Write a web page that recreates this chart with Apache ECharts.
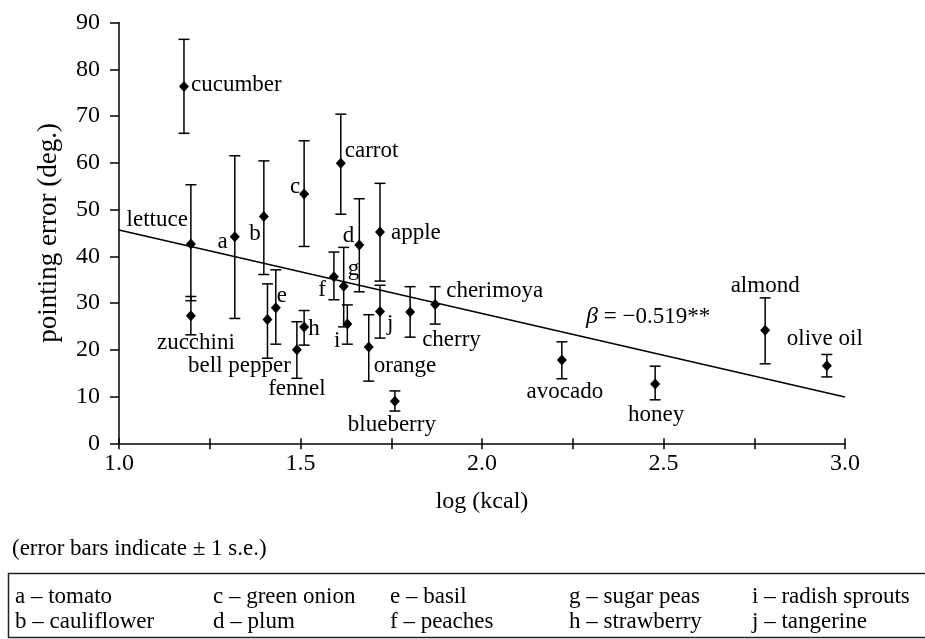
<!DOCTYPE html>
<html>
<head>
<meta charset="utf-8">
<script src="https://cdn.jsdelivr.net/npm/echarts@6/dist/echarts.min.js"></script>
<style>html,body{margin:0;padding:0;background:#fff}#c{width:925px;height:639px}</style>
</head>
<body>
<div id="c"></div>
<script>
// ---- data ----
const labels = ['cucumber','lettuce','zucchini','a','b','bell pepper','e','fennel','c','h','f','carrot','g','i','d','orange','apple','j','blueberry','cherry','cherimoya','avocado','honey','almond','olive oil'];
const logKcal = [1.179,1.198,1.198,1.319,1.399,1.409,1.432,1.490,1.510,1.510,1.592,1.611,1.619,1.629,1.662,1.688,1.719,1.719,1.760,1.802,1.871,2.220,2.477,2.780,2.950];
const pointingError = [76.3,42.6,27.3,44.2,48.5,26.5,29.0,20.0,53.3,24.9,35.6,59.9,33.6,25.5,42.4,20.6,45.2,28.2,9.0,28.1,29.7,17.8,12.7,24.2,16.6];
const errLow = [66.3,30.5,23.2,26.7,36.1,18.2,21.2,13.9,42.1,21.0,30.7,49.0,24.9,21.2,32.4,13.3,34.7,22.5,6.9,22.7,25.5,13.8,9.3,17.0,14.2];
const errHigh = [86.4,55.3,31.4,61.5,60.4,34.1,37.1,26.0,64.7,28.4,40.9,70.4,41.9,29.6,52.3,27.5,55.6,33.8,11.2,33.5,33.5,21.7,16.5,31.1,19.0];
const fitX = [1.0, 3.0];
const fitY = [45.6, 9.9];
const yTicks = [0,10,20,30,40,50,60,70,80,90];
const xTickLabels = ['1.0','1.5','2.0','2.5','3.0'];
const legendCodes = ['a','b','c','d','e','f','g','h','i','j'];
const legendNames = ['tomato','cauliflower','green onion','plum','basil','peaches','sugar peas','strawberry','radish sprouts','tangerine'];
const betaText = '−0.519**';
const noteText = '(error bars indicate ± 1 s.e.)';

// ---- label placement (style) ----
const place = {
  'cucumber':['left',7,-2], 'carrot':['left',4,-12], 'c':['right',-4,-7], 'lettuce':['right',-3,-24],
  'a':['right',-7,5], 'b':['right',-3,17], 'd':['right',-5,-9], 'apple':['left',11,1],
  'g':['left',4,-17], 'f':['right',-8,13], 'e':['left',1,-12], 'h':['left',4,2],
  'i':['right',-7,17], 'j':['left',7,13], 'zucchini':['center',5,27], 'bell pepper':['center',-28,47],
  'fennel':['center',0,39], 'orange':['left',5,19], 'blueberry':['center',-3,24], 'cherry':['left',12,28],
  'cherimoya':['left',11,-13], 'avocado':['center',3,32], 'honey':['center',1,31], 'almond':['center',0,-44],
  'olive oil':['center',-2,-27]
};

const FONT = "'Liberation Serif','Times New Roman',serif";
const INK = '#000';
const SYM = [10, 11];
const chart = echarts.init(document.getElementById('c'), null, {renderer:'canvas'});

const scatterData = labels.map((t,i)=>{
  const p = place[t] || ['left',6,0];
  return {
    value:[logKcal[i], pointingError[i]], name:t,
    label:{show:true, position:[SYM[0]/2 + p[1], SYM[1]/2 + p[2]], align:p[0], verticalAlign:'middle',
      formatter:t, color:INK, fontFamily:FONT, fontSize:23}
  };
});

const barData = labels.map((t,i)=>[logKcal[i], errLow[i], errHigh[i]]);

const graphics = [];
graphics.push({type:'text', left:12, top:537, style:{text:noteText, font:'23px '+FONT, fill:INK}});
graphics.push({type:'rect', shape:{x:8.5, y:573.5, width:940, height:64}, style:{fill:'none', stroke:'#222', lineWidth:1.5}});
const colX = [15, 213, 390, 569, 752];
const rowY = [585, 610];
legendCodes.forEach((c,i)=>{
  const col = Math.floor(i/2), row = i%2;
  graphics.push({type:'text', x:colX[col], y:rowY[row], style:{text:c+' – '+legendNames[i], font:'23px '+FONT, fill:INK}});
});
graphics.push({type:'text', x:586, y:305, style:{
  text:'{b|β} = '+betaText, font:'23px '+FONT, fill:INK,
  rich:{b:{fontStyle:'italic', fontFamily:FONT, fontSize:24, fill:INK}}
}});

chart.setOption({
  animation:false,
  backgroundColor:'#fff',
  grid:{left:119, right:80, top:22.5, bottom:195.7, containLabel:false},
  xAxis:[{
    type:'value', min:1, max:3, interval:0.25, position:'bottom',
    name:'log (kcal)', nameLocation:'middle', nameGap:46,
    nameTextStyle:{fontFamily:FONT, fontSize:24, color:INK},
    axisLine:{show:true, lineStyle:{color:INK, width:1.5}},
    axisTick:{show:true, inside:false, length:6, lineStyle:{color:INK, width:1.5}},
    axisLabel:{margin:8, fontFamily:FONT, fontSize:24, color:INK,
      formatter:(v)=>{const k=Math.round(v*2); return Math.abs(v*2-k)<1e-6 ? xTickLabels[k-2] : '';}},
    splitLine:{show:false}
  },{
    type:'value', min:1, max:3, interval:0.25, position:'bottom',
    axisLine:{show:false}, axisLabel:{show:false}, splitLine:{show:false},
    axisTick:{show:true, inside:true, length:5, lineStyle:{color:INK, width:1.5}}
  }],
  yAxis:{
    type:'value', min:0, max:90, interval:10,
    name:'pointing error (deg.)', nameLocation:'middle', nameGap:57, nameRotate:90,
    nameTextStyle:{fontFamily:FONT, fontSize:27, color:INK},
    axisLine:{show:true, lineStyle:{color:INK, width:1.5}},
    axisTick:{show:true, length:9, lineStyle:{color:INK, width:1.5}},
    axisLabel:{margin:19, fontFamily:FONT, fontSize:24, color:INK,
      formatter:(v)=>String(yTicks[Math.round(v/10)])},
    splitLine:{show:false}
  },
  series:[
    {type:'line', data:fitX.map((x,i)=>[x, fitY[i]]), symbol:'none', lineStyle:{color:INK, width:1.6}, z:2, silent:true},
    {type:'custom', data:barData, encode:{x:0, y:[1,2]}, z:3, silent:true,
      renderItem:(params, api)=>{
        const x = api.value(0);
        const a = api.coord([x, api.value(2)]);
        const b = api.coord([x, api.value(1)]);
        const w = 5.5, st = {stroke:INK, lineWidth:1.5};
        return {type:'group', children:[
          {type:'line', shape:{x1:a[0], y1:a[1], x2:b[0], y2:b[1]}, style:st},
          {type:'line', shape:{x1:a[0]-w, y1:a[1], x2:a[0]+w, y2:a[1]}, style:st},
          {type:'line', shape:{x1:b[0]-w, y1:b[1], x2:b[0]+w, y2:b[1]}, style:st}
        ]};
      }},
    {type:'scatter', data:scatterData, symbol:'diamond', symbolSize:SYM, itemStyle:{color:INK, opacity:1}, z:4, silent:true}
  ],
  graphic:graphics
});
</script>
</body>
</html>
